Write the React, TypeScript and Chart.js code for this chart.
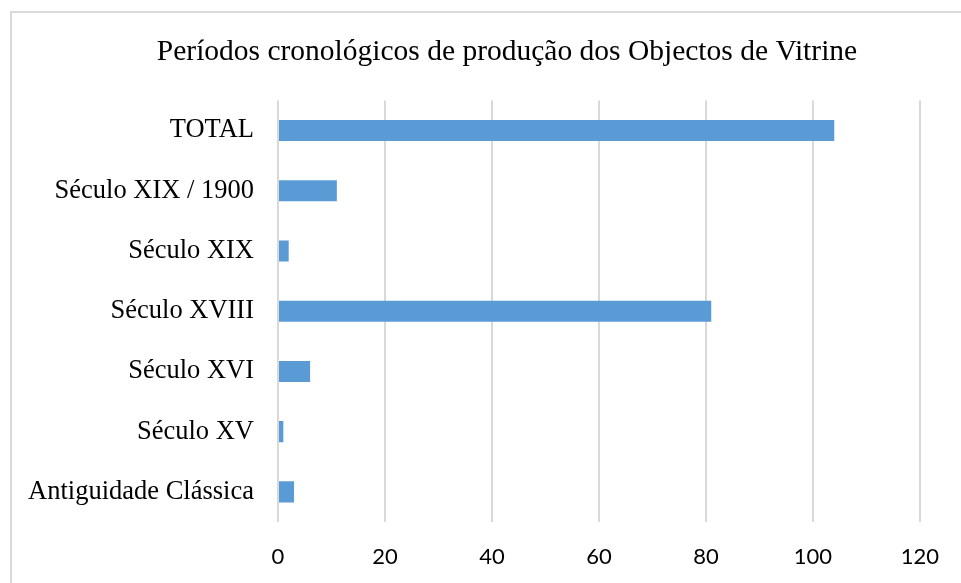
import React, { useEffect, useRef } from "react";
import { Chart, registerables } from "chart.js";

Chart.register(...registerables);

const categories = [
  "TOTAL",
  "Século XIX / 1900",
  "Século XIX",
  "Século XVIII",
  "Século XVI",
  "Século XV",
  "Antiguidade Clássica",
];
const values = [104, 11, 2, 81, 6, 1, 3];
const titleText = "Períodos cronológicos de produção dos Objectos de Vitrine";
const xMin = 0;
const xMax = 120;
const xStep = 20;

const titleShift = {
  id: "titleShift",
  afterLayout(chart: any) {
    const tb = chart.titleBlock;
    if (tb) {
      tb.left = 94;
      tb.right = 920;
    }
  },
};

export default function App() {
  const ref = useRef<HTMLCanvasElement | null>(null);

  useEffect(() => {
    if (!ref.current) return;
    const chart = new Chart(ref.current, {
      type: "bar",
      data: {
        labels: categories,
        datasets: [
          {
            data: values,
            backgroundColor: "#5B9BD5",
            borderWidth: 0,
            barPercentage: 0.35,
            categoryPercentage: 1,
          },
        ],
      },
      plugins: [titleShift],
      options: {
        indexAxis: "y",
        animation: false,
        responsive: false,
        maintainAspectRatio: false,
        layout: { padding: { left: 0, right: 41, top: 0, bottom: 0 } },
        plugins: {
          legend: { display: false },
          tooltip: { enabled: false },
          title: {
            display: true,
            text: titleText,
            color: "#000",
            font: { family: "'Liberation Serif', 'Times New Roman', serif", size: 29.5, weight: "normal" },
            padding: { top: 35, bottom: 30 },
          },
        },
        scales: {
          x: {
            min: xMin,
            max: xMax,
            ticks: {
              stepSize: xStep,
              color: "#000",
              padding: 22,
              font: { family: "Lato, 'Open Sans', sans-serif", size: 22 },
            },
            grid: { color: "#d9d9d9", lineWidth: 2, drawTicks: false },
            border: { display: false },
            afterFit: (scale: any) => {
              scale.height = 61;
            },
          },
          y: {
            ticks: {
              color: "#000",
              padding: 24,
              font: { family: "'Liberation Serif', 'Times New Roman', serif", size: 26.5 },
            },
            grid: { display: false, drawTicks: false },
            border: { display: false },
            afterFit: (scale: any) => {
              scale.width = 278;
            },
          },
        },
      },
    });
    return () => chart.destroy();
  }, []);

  return (
    <div style={{ position: "fixed", left: 0, top: 0, width: 961, height: 583, overflow: "hidden", background: "#fff" }}>
      <div
        style={{
          position: "absolute",
          left: 10,
          top: 11,
          width: 1200,
          height: 1200,
          border: "2px solid #d9d9d9",
          boxSizing: "border-box",
        }}
      />
      <canvas ref={ref} width={961} height={583} style={{ position: "absolute", left: 0, top: 0 }} />
    </div>
  );
}
